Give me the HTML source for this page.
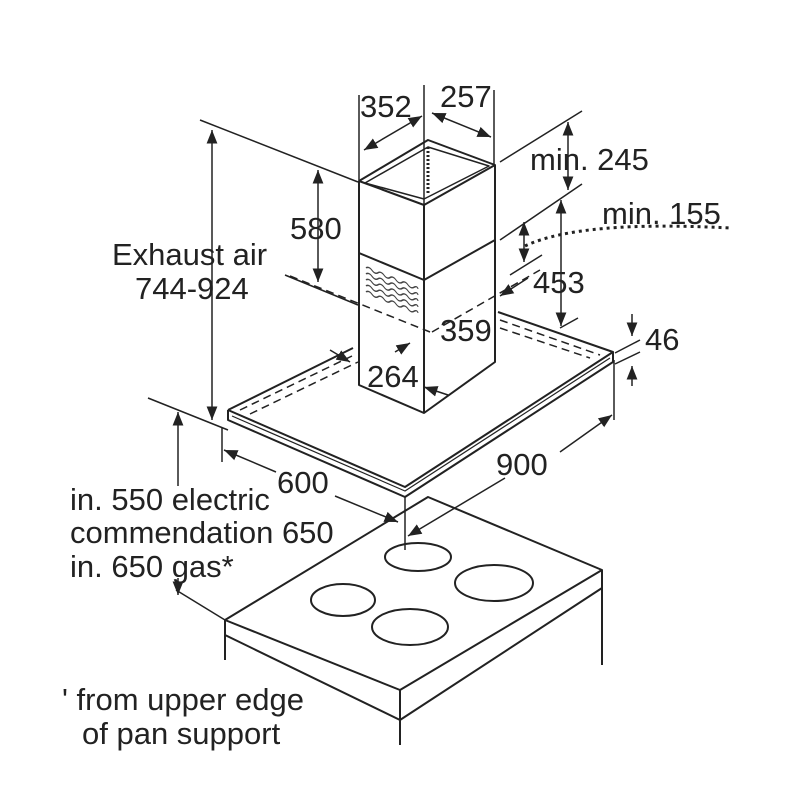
<!DOCTYPE html>
<html><head><style>body{margin:0;background:#fff}svg{display:block}</style></head><body>
<svg width="800" height="800" viewBox="0 0 800 800" xmlns="http://www.w3.org/2000/svg">
<defs><marker id="a" viewBox="0 0 10 10" refX="10" refY="5" markerWidth="9" markerHeight="9" orient="auto-start-reverse"><path d="M0,1 L10,5 L0,9 z" fill="#222"/></marker></defs>
<g stroke="#222" stroke-width="2" fill="none" stroke-linejoin="round">
<path d="M359,181 L428,140 L495,165 L424,205 Z"/>
<path d="M365,183 L428,147 L489,166 L424,199 Z" stroke-width="1.5"/>
<line x1="428" y1="147" x2="428" y2="195" stroke-dasharray="2,2" stroke-width="3"/>
<path d="M359,181 L359,385 L424,413 L495,362 L495,165"/>
<line x1="424" y1="205" x2="424" y2="413"/>
<path d="M359,253 L424,280 L495,240"/>
<g stroke-width="1.3" stroke="#444">
<path d="M366,268 q3,-3 6,0 t6,0 t6,0 t6,0 t6,0 t6,0 t6,0 t6,0 t4,0" transform="skewY(22) translate(0,-148)"/>
<path d="M366,274 q3,-3 6,0 t6,0 t6,0 t6,0 t6,0 t6,0 t6,0 t6,0 t4,0" transform="skewY(22) translate(0,-148)"/>
<path d="M366,280 q3,-3 6,0 t6,0 t6,0 t6,0 t6,0 t6,0 t6,0 t6,0 t4,0" transform="skewY(22) translate(0,-148)"/>
<path d="M366,286 q3,-3 6,0 t6,0 t6,0 t6,0 t6,0 t6,0 t6,0 t6,0 t4,0" transform="skewY(22) translate(0,-148)"/>
<path d="M366,292 q3,-3 6,0 t6,0 t6,0 t6,0 t6,0 t6,0 t6,0 t6,0 t4,0" transform="skewY(22) translate(0,-148)"/>
</g>
<path d="M228,410 L353,348 M498,312 L613,352 L405,487 L228,410"/>
<path d="M228,410 L228,420 L405,497 L613,362 L613,352"/>
<path d="M232,416 L405,491 L610,358" stroke-width="1.2"/>
<path d="M240,410 L352,356 M250,414 L358,362 M500,320 L600,355 M500,328 L590,358" stroke-dasharray="8,5" stroke-width="1.5"/>
<path d="M290,276 L430,332 M432,332 L540,270" stroke-dasharray="8,5" stroke-width="1.5"/>
<line x1="200" y1="120" x2="358" y2="182" stroke-width="1.5"/>
<line x1="285" y1="275" x2="358" y2="305" stroke-width="1.5"/>
<line x1="359" y1="95" x2="359" y2="180" stroke-width="1.5"/>
<line x1="424" y1="85" x2="424" y2="205" stroke-width="1.5"/>
<line x1="494" y1="90" x2="494" y2="165" stroke-width="1.5"/>
<line x1="500" y1="162" x2="582" y2="111" stroke-width="1.5"/>
<line x1="500" y1="240" x2="582" y2="184" stroke-width="1.5"/>
<line x1="510" y1="275" x2="542" y2="255" stroke-width="1.5"/>
<line x1="560" y1="328" x2="578" y2="318" stroke-width="1.5"/>
<line x1="148" y1="398" x2="228" y2="430" stroke-width="1.5"/>
<line x1="176" y1="590" x2="225" y2="620" stroke-width="1.5"/>
<line x1="222" y1="428" x2="222" y2="462" stroke-width="1.5"/>
<line x1="614" y1="360" x2="614" y2="420" stroke-width="1.5"/>
<line x1="405" y1="497" x2="405" y2="550" stroke-width="1.5"/>
<line x1="615" y1="353" x2="640" y2="340" stroke-width="1.5"/>
<line x1="615" y1="364" x2="640" y2="352" stroke-width="1.5"/>
<g stroke-width="1.5">
<line x1="212" y1="130" x2="212" y2="420" marker-start="url(#a)" marker-end="url(#a)"/>
<line x1="318" y1="170" x2="318" y2="282" marker-start="url(#a)" marker-end="url(#a)"/>
<line x1="364" y1="150" x2="422" y2="116" marker-start="url(#a)" marker-end="url(#a)"/>
<line x1="432" y1="113" x2="491" y2="137" marker-start="url(#a)" marker-end="url(#a)"/>
<line x1="568" y1="122" x2="568" y2="190" marker-start="url(#a)" marker-end="url(#a)"/>
<line x1="561" y1="200" x2="561" y2="326" marker-start="url(#a)" marker-end="url(#a)"/>
<line x1="524" y1="222" x2="524" y2="262" marker-start="url(#a)" marker-end="url(#a)"/>
<line x1="528" y1="278" x2="500" y2="296" marker-end="url(#a)"/>
<line x1="410" y1="343" x2="395" y2="352" marker-start="url(#a)"/>
<line x1="330" y1="350" x2="350" y2="362" marker-end="url(#a)"/>
<line x1="424" y1="387" x2="448" y2="395" marker-start="url(#a)"/>
<line x1="632" y1="314" x2="632" y2="336" marker-end="url(#a)"/>
<line x1="632" y1="386" x2="632" y2="366" marker-end="url(#a)"/>
<line x1="178" y1="412" x2="178" y2="486" marker-start="url(#a)"/>
<line x1="178" y1="578" x2="178" y2="595" marker-end="url(#a)"/>
<line x1="224" y1="450" x2="276" y2="472" marker-start="url(#a)"/>
<line x1="335" y1="496" x2="398" y2="522" marker-end="url(#a)"/>
<line x1="560" y1="452" x2="612" y2="415" marker-end="url(#a)"/>
<line x1="505" y1="478" x2="408" y2="536" marker-end="url(#a)"/>
</g>
<path d="M525,246 Q580,220 730,228" stroke-dasharray="3,4" stroke-width="3"/>
<path d="M225,620 L428,497 L602,570 L400,690 Z"/>
<path d="M225,620 L225,635 L400,720 L602,588 L602,570 M400,690 L400,720"/>
<path d="M225,635 L225,660 M400,720 L400,745 M602,588 L602,665"/>
<ellipse cx="418" cy="557" rx="33" ry="14"/>
<ellipse cx="494" cy="583" rx="39" ry="18"/>
<ellipse cx="343" cy="600" rx="32" ry="16"/>
<ellipse cx="410" cy="627" rx="38" ry="18"/>
</g>
<g font-family="Liberation Sans, sans-serif" font-size="31" fill="#222">
<text x="360" y="117">352</text>
<text x="440" y="107">257</text>
<text x="530" y="170">min. 245</text>
<text x="602" y="224">min. 155</text>
<text x="290" y="239">580</text>
<text x="112" y="265">Exhaust air</text>
<text x="135" y="299">744-924</text>
<text x="533" y="293">453</text>
<text x="440" y="341">359</text>
<text x="645" y="350">46</text>
<text x="367" y="387">264</text>
<text x="496" y="475">900</text>
<text x="277" y="493">600</text>
<text x="70" y="510">in. 550 electric</text>
<text x="70" y="543">commendation 650</text>
<text x="70" y="577">in. 650 gas*</text>
<text x="62" y="710">' from upper edge</text>
<text x="82" y="744">of pan support</text>
</g>
</svg>
</body></html>
